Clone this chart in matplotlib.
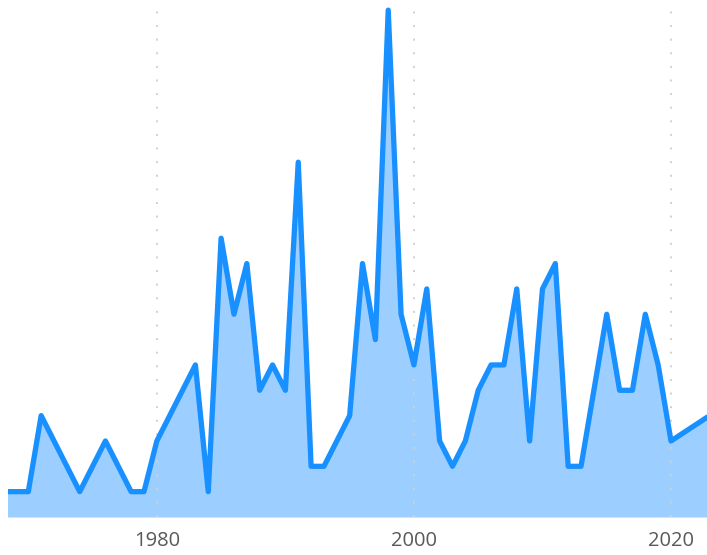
import numpy as np
from matplotlib import pyplot as plt
plt.rcParams["font.family"] = ["Open Sans", "DejaVu Sans"]

years = [1968, 1969, 1970, 1971, 1972, 1973, 1974, 1975, 1976, 1977, 1978,
         1979, 1980, 1981, 1982, 1983, 1984, 1985, 1986, 1987, 1988, 1989,
         1990, 1991, 1992, 1993, 1994, 1995, 1996, 1997, 1998, 1999, 2000,
         2001, 2002, 2003, 2004, 2005, 2006, 2007, 2008, 2009, 2010, 2011,
         2012, 2013, 2014, 2015, 2016, 2017, 2018, 2019, 2020, 2023]
counts = [1, 1, 1, 4, 3, 2, 1, 2, 3, 2, 1,
          1, 3, 4, 5, 6, 1, 11, 8, 10, 5, 6,
          5, 14, 2, 2, 3, 4, 10, 7, 20, 8, 6,
          9, 3, 2, 3, 5, 6, 6, 9, 3, 9, 10,
          2, 2, 5, 8, 5, 5, 8, 6, 3, 4]
tick_years = [1980, 2000, 2020]

fig = plt.figure(figsize=(7.07, 5.55), dpi=100)
ax = fig.add_axes([8 / 707, 38 / 555, 699 / 707, 517 / 555])

ax.fill_between(years, counts, 0, color="#9ccfff", linewidth=0)
ax.plot(years, counts, color="#1890ff", linewidth=3.8,
        solid_joinstyle="round", solid_capstyle="butt")

ax.set_xlim(1968.42, 2022.8)
ax.set_ylim(0, 20.4)
ax.set_xticks(tick_years)
ax.set_xticklabels([str(y) for y in tick_years], fontsize=14.5, color="#595959")
ax.set_yticks([])
ax.tick_params(axis="x", length=0, pad=10)
ax.grid(axis="x", linestyle=(0, (1, 6)), color="#d0d0d0", linewidth=1.4)
for s in ax.spines.values():
    s.set_visible(False)

plt.savefig("out.png", dpi=100)
